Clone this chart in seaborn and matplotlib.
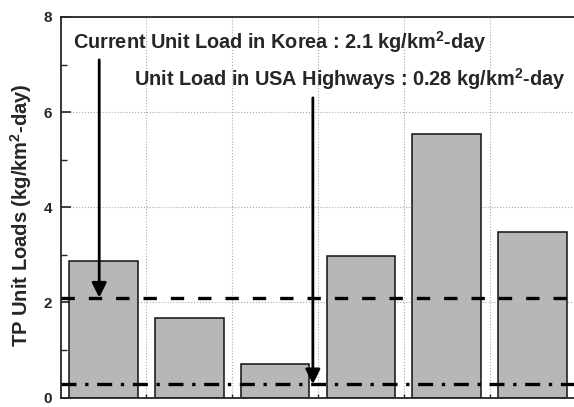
import numpy as np
import pandas as pd
import matplotlib
matplotlib.use("Agg")
import matplotlib.pyplot as plt
import seaborn as sns
from matplotlib.ticker import MultipleLocator, FixedLocator

# ---- data ----
sites = ["S1", "S2", "S3", "S4", "S5", "S6"]
tp_loads = [2.87, 1.68, 0.70, 2.97, 5.53, 3.48]
korea_load = 2.1
usa_load = 0.28
korea_text = "Current Unit Load in Korea : 2.1 kg/km$^{2}$-day"
usa_text = "Unit Load in USA Highways : 0.28 kg/km$^{2}$-day"
y_label = "TP Unit Loads (kg/km$^{2}$-day)"

sns.set_style("ticks")
plt.rcParams['font.family'] = ['Liberation Sans', 'DejaVu Sans']
plt.rcParams['font.weight'] = 'bold'
plt.rcParams['mathtext.fontset'] = 'custom'
plt.rcParams['mathtext.rm'] = 'Liberation Sans:bold'
plt.rcParams['mathtext.default'] = 'rm'

df = pd.DataFrame({"site": sites, "load": tp_loads})

fig = plt.figure(figsize=(5.74, 4.07), dpi=100)
ax = fig.add_axes([60.6 / 574, 9.5 / 407, 514.8 / 574, 380.5 / 407])

sns.barplot(data=df, x="site", y="load", color="#B7B7B7", saturation=1,
            edgecolor="#111111", linewidth=1.1, width=0.8, ax=ax)

ax.set_xlim(-0.5, len(sites) - 0.5)
ax.set_ylim(0, 8)

# reference lines
ax.axhline(korea_load, color="black", lw=2.4, ls=(0, (4, 4.2)), zorder=4)
ax.axhline(usa_load, color="black", lw=2.4, ls=(0, (4.5, 2.6, 1, 2.6)), zorder=4)

# arrows + notes
arrow_kw = dict(arrowstyle="-|>", color="black", lw=2, mutation_scale=22,
                shrinkA=0, shrinkB=0)
ax.annotate("", xy=(-0.05, korea_load), xytext=(-0.05, 7.10),
            arrowprops=arrow_kw, zorder=5)
ax.annotate("", xy=(2.44, usa_load), xytext=(2.44, 6.30),
            arrowprops=arrow_kw, zorder=5)
ax.text(-0.355, 7.33, korea_text, fontsize=14.3, fontweight="bold", va="baseline")
ax.text(0.355, 6.55, usa_text, fontsize=14.3, fontweight="bold", va="baseline")

# ticks and grid
ax.yaxis.set_major_locator(MultipleLocator(2))
ax.yaxis.set_minor_locator(MultipleLocator(1))
ax.xaxis.set_minor_locator(FixedLocator(np.arange(0.5, len(sites) - 0.5, 1)))
ax.tick_params(axis="y", which="major", direction="in", length=7, width=1.2,
               labelsize=11, pad=6)
ax.tick_params(axis="y", which="minor", direction="in", length=4, width=1.0)
ax.tick_params(axis="x", which="major", length=0, labelbottom=False)
ax.tick_params(axis="x", which="minor", direction="in", length=3, width=1.0)
for lab in ax.get_yticklabels():
    lab.set_fontweight("bold")

ax.set_axisbelow(True)
ax.grid(axis="y", which="major", ls=":", color="#AAAAAA", lw=0.8)
ax.grid(axis="x", which="minor", ls=":", color="#AAAAAA", lw=0.8)

ax.set_xlabel("")
ax.set_ylabel(y_label, fontsize=14.5, fontweight="bold")
ax.yaxis.set_label_coords(-0.052, 0.48)
for sp in ax.spines.values():
    sp.set_linewidth(1.3)

fig.savefig("out.png", dpi=100)
